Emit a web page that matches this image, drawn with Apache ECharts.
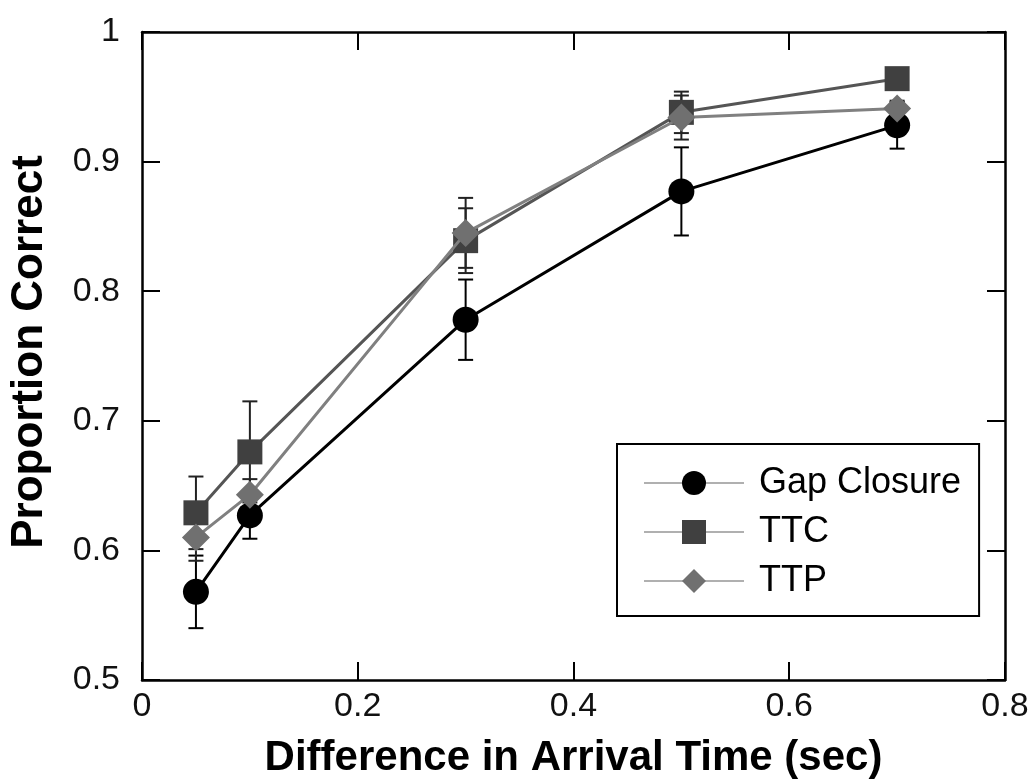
<!DOCTYPE html>
<html>
<head>
<meta charset="utf-8">
<script src="https://cdn.jsdelivr.net/npm/echarts@6/dist/echarts.min.js"></script>
<style>
html,body{margin:0;padding:0;background:#fff;}
#main{width:1034px;height:784px;}
</style>
</head>
<body>
<div id="main"></div>
<script>
// ---- data ----
var xValues = [0.05, 0.1, 0.3, 0.5, 0.7];
var gapMean = [0.568, 0.627, 0.778, 0.877, 0.928];
var gapErr  = [0.028, 0.018, 0.031, 0.034, 0.018];
var ttcMean = [0.629, 0.676, 0.839, 0.938, 0.964];
var ttcErr  = [0.028, 0.039, 0.025, 0.016, 0.006];
var ttpMean = [0.610, 0.643, 0.845, 0.934, 0.941];
var ttpErr  = [0.018, 0.012, 0.027, 0.017, 0.006];
var seriesNames = ['Gap Closure', 'TTC', 'TTP'];
var xTicks = [0, 0.2, 0.4, 0.6, 0.8];
var yTicks = [0.5, 0.6, 0.7, 0.8, 0.9, 1];

function pairs(xs, ys) { return xs.map(function (x, i) { return [x, ys[i]]; }); }
function errData(xs, m, e) { return xs.map(function (x, i) { return [x, m[i] - e[i], m[i] + e[i]]; }); }

function errRender(color) {
  return function (params, api) {
    var x = api.value(0);
    var lo = api.coord([x, api.value(1)]);
    var hi = api.coord([x, api.value(2)]);
    var cw = 7.5;
    var st = { stroke: color, lineWidth: 2 };
    return {
      type: 'group',
      children: [
        { type: 'line', shape: { x1: lo[0], y1: lo[1], x2: hi[0], y2: hi[1] }, style: st },
        { type: 'line', shape: { x1: lo[0] - cw, y1: lo[1], x2: lo[0] + cw, y2: lo[1] }, style: st },
        { type: 'line', shape: { x1: hi[0] - cw, y1: hi[1], x2: hi[0] + cw, y2: hi[1] }, style: st }
      ]
    };
  };
}

var FONT = '"Liberation Sans", Arial, sans-serif';
var axisCommon = {
  type: 'value',
  splitLine: { show: false },
  axisLine: { show: true, onZero: false, lineStyle: { color: '#000', width: 2.5 } },
  axisTick: { show: true, inside: true, length: 18, lineStyle: { color: '#000', width: 2 } }
};

var chart = echarts.init(document.getElementById('main'), null, { renderer: 'canvas' });
var option = {
  backgroundColor: '#fff',
  animation: false,
  grid: { left: 142, top: 32, right: 29, bottom: 104, containLabel: false, outerBoundsMode: 'none' },
  xAxis: [
    Object.assign({}, axisCommon, {
      position: 'bottom', min: xTicks[0], max: xTicks[xTicks.length - 1], interval: 0.2,
      axisLabel: { show: true, color: '#111', fontSize: 34, fontFamily: FONT, margin: 10 },
      name: 'Difference in Arrival Time (sec)', nameLocation: 'middle', nameGap: 57,
      nameTextStyle: { color: '#000', fontSize: 42, fontWeight: 'bold', fontFamily: FONT }
    }),
    Object.assign({}, axisCommon, {
      position: 'top', min: xTicks[0], max: xTicks[xTicks.length - 1], interval: 0.2,
      axisLabel: { show: false }
    })
  ],
  yAxis: [
    Object.assign({}, axisCommon, {
      position: 'left', min: yTicks[0], max: yTicks[yTicks.length - 1], interval: 0.1,
      axisLabel: { show: true, color: '#111', fontSize: 34, fontFamily: FONT, margin: 22, padding: [0, 0, 16, 0] },
      name: 'Proportion Correct', nameLocation: 'middle', nameGap: 90,
      nameTextStyle: { color: '#000', fontSize: 44, fontWeight: 'bold', fontFamily: FONT, padding: [0, 0, 0, 8] }
    }),
    Object.assign({}, axisCommon, {
      position: 'right', min: yTicks[0], max: yTicks[yTicks.length - 1], interval: 0.1,
      axisLabel: { show: false }
    })
  ],
  legend: {
    data: seriesNames,
    orient: 'vertical',
    left: 617, top: 444,
    padding: [21, 18, 17, 26],
    borderColor: '#000', borderWidth: 2,
    backgroundColor: '#fff',
    itemWidth: 100, itemHeight: 30, itemGap: 13,
    textStyle: { color: '#000', fontSize: 36, fontFamily: FONT, padding: [0, 0, 0, 10] },
    lineStyle: { color: '#b0b0b0', width: 2 },
    selectedMode: false
  },
  series: [
    { name: 'errGap', type: 'custom', renderItem: errRender('#000'), data: errData(xValues, gapMean, gapErr), encode: { x: 0, y: [1, 2] }, z: 1, silent: true },
    { name: 'errTTC', type: 'custom', renderItem: errRender('#222'), data: errData(xValues, ttcMean, ttcErr), encode: { x: 0, y: [1, 2] }, z: 1, silent: true },
    { name: 'errTTP', type: 'custom', renderItem: errRender('#222'), data: errData(xValues, ttpMean, ttpErr), encode: { x: 0, y: [1, 2] }, z: 1, silent: true },
    {
      name: 'Gap Closure', type: 'line', data: pairs(xValues, gapMean),
      symbol: 'circle', symbolSize: 26,
      itemStyle: { color: '#000' }, lineStyle: { color: '#000', width: 3 }, z: 5
    },
    {
      name: 'TTC', type: 'line', data: pairs(xValues, ttcMean),
      symbol: 'rect', symbolSize: 25,
      itemStyle: { color: '#404040' }, lineStyle: { color: '#555', width: 3 }, z: 4
    },
    {
      name: 'TTP', type: 'line', data: pairs(xValues, ttpMean),
      symbol: 'diamond', symbolSize: 28,
      itemStyle: { color: '#707070' }, lineStyle: { color: '#808080', width: 3 }, z: 6
    }
  ]
};
chart.setOption(option);
</script>
</body>
</html>
